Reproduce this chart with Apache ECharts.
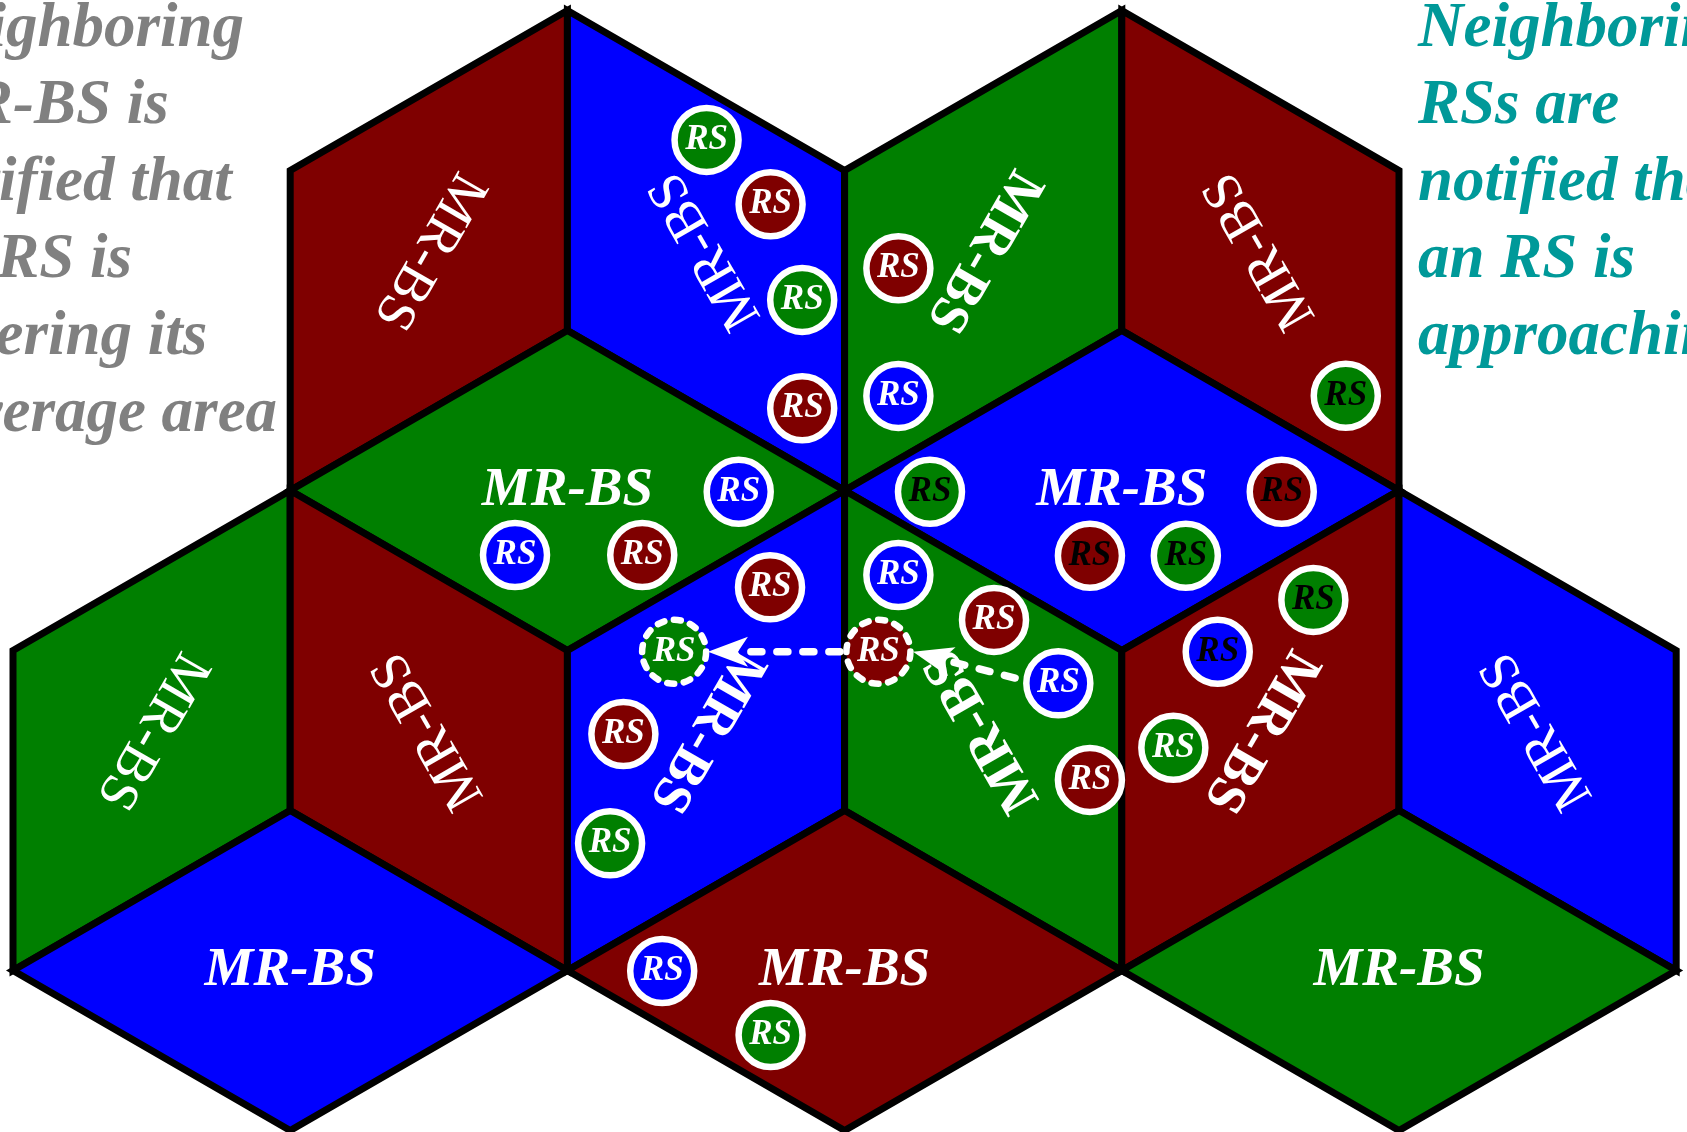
<!DOCTYPE html>
<html>
<head>
<meta charset="utf-8">
<script src="https://cdn.jsdelivr.net/npm/echarts@6/dist/echarts.min.js"></script>
<style>
html,body{margin:0;padding:0;background:#ffffff;}
#c{width:1687px;height:1132px;}
</style>
</head>
<body>
<div id="c"></div>
<script>
// ---------- data (lattice units: x = column, y = row) ----------
const hexCenters = [[2, 2], [4, 2], [1, 5], [3, 5], [5, 5]];
// parts per hexagon: [left rhombus, right rhombus, bottom rhombus]
const hexColors = [
  ['red', 'blue', 'green'],
  ['green', 'red', 'blue'],
  ['green', 'red', 'blue'],
  ['blue', 'green', 'red'],
  ['red', 'blue', 'green']
];
const cellLabel = 'MR-BS';
const labelBold = [
  [false, false, true],
  [true, false, true],
  [false, false, true],
  [true, true, true],
  [true, false, true]
];

const rsCol = [2.502, 2.733, 2.847, 2.847, 3.194, 3.194, 4.808, 2.618, 3.308, 4.577, 1.811, 2.270, 3.885, 4.231, 2.731, 3.194, 4.691, 3.539, 4.346, 2.385, 3.122, 3.771, 2.202, 4.186, 3.885, 2.154, 2.342, 2.733];
const rsRow = [0.809, 1.211, 1.809, 2.486, 1.611, 2.409, 2.408, 3.008, 3.008, 3.008, 3.403, 3.403, 3.408, 3.408, 3.605, 3.528, 3.684, 3.809, 4.008, 4.008, 4.008, 4.205, 4.522, 4.608, 4.809, 5.205, 6.003, 6.403];
const rsFill = ['green', 'red', 'green', 'red', 'red', 'blue', 'green', 'blue', 'green', 'red', 'blue', 'red', 'red', 'green', 'red', 'blue', 'green', 'red', 'blue', 'green', 'red', 'blue', 'red', 'green', 'red', 'green', 'blue', 'green'];
const rsBlackText = [6, 8, 9, 12, 13, 16, 18];
const rsDashed = [19, 20];
const rsLabel = 'RS';

// arrows: [fromCol, fromRow, toCol, toRow]
const arrowFromCol = [3.615, 2.983];
const arrowFromRow = [4.172, 4.008];
const arrowToCol = [3.247, 2.507];
const arrowToRow = [4.008, 4.008];

const leftLines = ['Neighboring', 'MR-BS is', 'notified that', 'an RS is', 'entering its', 'coverage area'];
const rightLines = ['Neighboring', 'RSs are', 'notified that', 'an RS is', 'approaching'];

// ---------- styles ----------
const COLORS = { red: '#7f0000', blue: '#0000ff', green: '#007f00' };
const SERIF = 'Liberation Serif';

function rhombusPts(cx, cy, p) {
  const top = [cx, cy - 2], tl = [cx - 1, cy - 1], tr = [cx + 1, cy - 1],
        bl = [cx - 1, cy + 1], br = [cx + 1, cy + 1], bot = [cx, cy + 2], c = [cx, cy];
  if (p === 0) return [top, tl, bl, c];
  if (p === 1) return [top, c, br, tr];
  return [c, bl, bot, br];
}

const rhombi = [];
const labels = [];
hexCenters.forEach(function (hc, h) {
  for (let p = 0; p < 3; p++) {
    rhombi.push([hc[0], hc[1], p, h]);
    const lx = p === 0 ? hc[0] - 0.5 : (p === 1 ? hc[0] + 0.5 : hc[0]);
    const ly = p === 2 ? hc[1] + 1 : hc[1] - 0.5;
    labels.push([lx, ly, p, h]);
  }
});

const rsData = rsCol.map(function (x, i) {
  const dashed = rsDashed.indexOf(i) >= 0;
  return {
    value: [x, rsRow[i]],
    itemStyle: {
      color: COLORS[rsFill[i]],
      opacity: 1,
      borderColor: '#ffffff',
      borderWidth: 6.5,
      borderType: dashed ? [7, 9.7] : 'solid',
      borderCap: dashed ? 'round' : 'butt'
    },
    label: { color: rsBlackText.indexOf(i) >= 0 ? '#000000' : '#ffffff' }
  };
});

const arrowData = arrowFromCol.map(function (x, i) {
  return [x, arrowFromRow[i], arrowToCol[i], arrowToRow[i]];
});

function textBlock(lines, x, color) {
  return lines.map(function (t, i) {
    return {
      type: 'text',
      x: x,
      y: 51 + 77 * i - 21,
      silent: true,
      style: {
        text: t,
        fill: color,
        font: 'italic bold 63px "Liberation Serif"',
        align: 'left',
        verticalAlign: 'middle'
      }
    };
  });
}

const chart = echarts.init(document.getElementById('c'), null, { renderer: 'canvas' });
chart.setOption({
  animation: false,
  backgroundColor: '#ffffff',
  grid: { left: 13, top: 10.5, width: 1663.2, height: 1120 },
  xAxis: { type: 'value', min: 0, max: 6, show: false },
  yAxis: { type: 'value', min: 0, max: 7, inverse: true, show: false },
  graphic: textBlock(leftLines, -85, '#808080').concat(textBlock(rightLines, 1418, '#009999')),
  series: [
    {
      type: 'custom',
      coordinateSystem: 'cartesian2d',
      silent: true,
      z: 1,
      data: rhombi,
      renderItem: function (params, api) {
        const cx = api.value(0), cy = api.value(1), p = api.value(2), h = api.value(3);
        const pts = rhombusPts(cx, cy, p).map(function (q) { return api.coord(q); });
        return {
          type: 'polygon',
          shape: { points: pts },
          style: { fill: COLORS[hexColors[h][p]], stroke: '#000000', lineWidth: 7, lineJoin: 'miter' }
        };
      }
    },
    {
      type: 'custom',
      coordinateSystem: 'cartesian2d',
      silent: true,
      z: 2,
      data: labels,
      renderItem: function (params, api) {
        const p = api.value(2), h = api.value(3);
        const pt = api.coord([api.value(0), api.value(1)]);
        const rot = p === 0 ? -2 * Math.PI / 3 : (p === 1 ? 2 * Math.PI / 3 : 0);
        const bold = labelBold[h][p];
        const fs = 55;
        return {
          type: 'text',
          x: pt[0],
          y: pt[1],
          rotation: rot,
          style: {
            text: cellLabel,
            fill: '#ffffff',
            font: (p === 2 ? 'italic ' : 'normal ') + (bold ? 'bold ' : 'normal ') + fs + 'px "Liberation Serif"',
            align: 'center',
            verticalAlign: 'middle'
          }
        };
      }
    },
    {
      type: 'scatter',
      silent: true,
      z: 3,
      symbol: 'circle',
      symbolSize: 64,
      data: rsData,
      itemStyle: { opacity: 1 },
      label: {
        show: true,
        position: 'inside',
        formatter: rsLabel,
        fontFamily: SERIF,
        fontStyle: 'italic',
        fontWeight: 'bold',
        fontSize: 35
      },
      emphasis: { disabled: true }
    },
    {
      type: 'custom',
      coordinateSystem: 'cartesian2d',
      silent: true,
      z: 4,
      data: arrowData,
      renderItem: function (params, api) {
        const a = api.coord([api.value(0), api.value(1)]);
        const b = api.coord([api.value(2), api.value(3)]);
        const dx = b[0] - a[0], dy = b[1] - a[1];
        const len = Math.sqrt(dx * dx + dy * dy);
        const ux = dx / len, uy = dy / len, nx = -uy, ny = ux;
        const L = 40, W = 15;
        const endX = b[0] - ux * L * 0.7, endY = b[1] - uy * L * 0.7;
        return {
          type: 'group',
          children: [
            {
              type: 'line',
              shape: { x1: a[0], y1: a[1], x2: endX, y2: endY },
              style: { stroke: '#ffffff', lineWidth: 7.5, lineDash: [11, 15], lineCap: 'round' }
            },
            {
              type: 'polygon',
              shape: {
                points: [
                  [b[0], b[1]],
                  [b[0] - ux * L + nx * W, b[1] - uy * L + ny * W],
                  [b[0] - ux * L * 0.75, b[1] - uy * L * 0.75],
                  [b[0] - ux * L - nx * W, b[1] - uy * L - ny * W]
                ]
              },
              style: { fill: '#ffffff' }
            }
          ]
        };
      }
    }
  ]
});
</script>
</body>
</html>
